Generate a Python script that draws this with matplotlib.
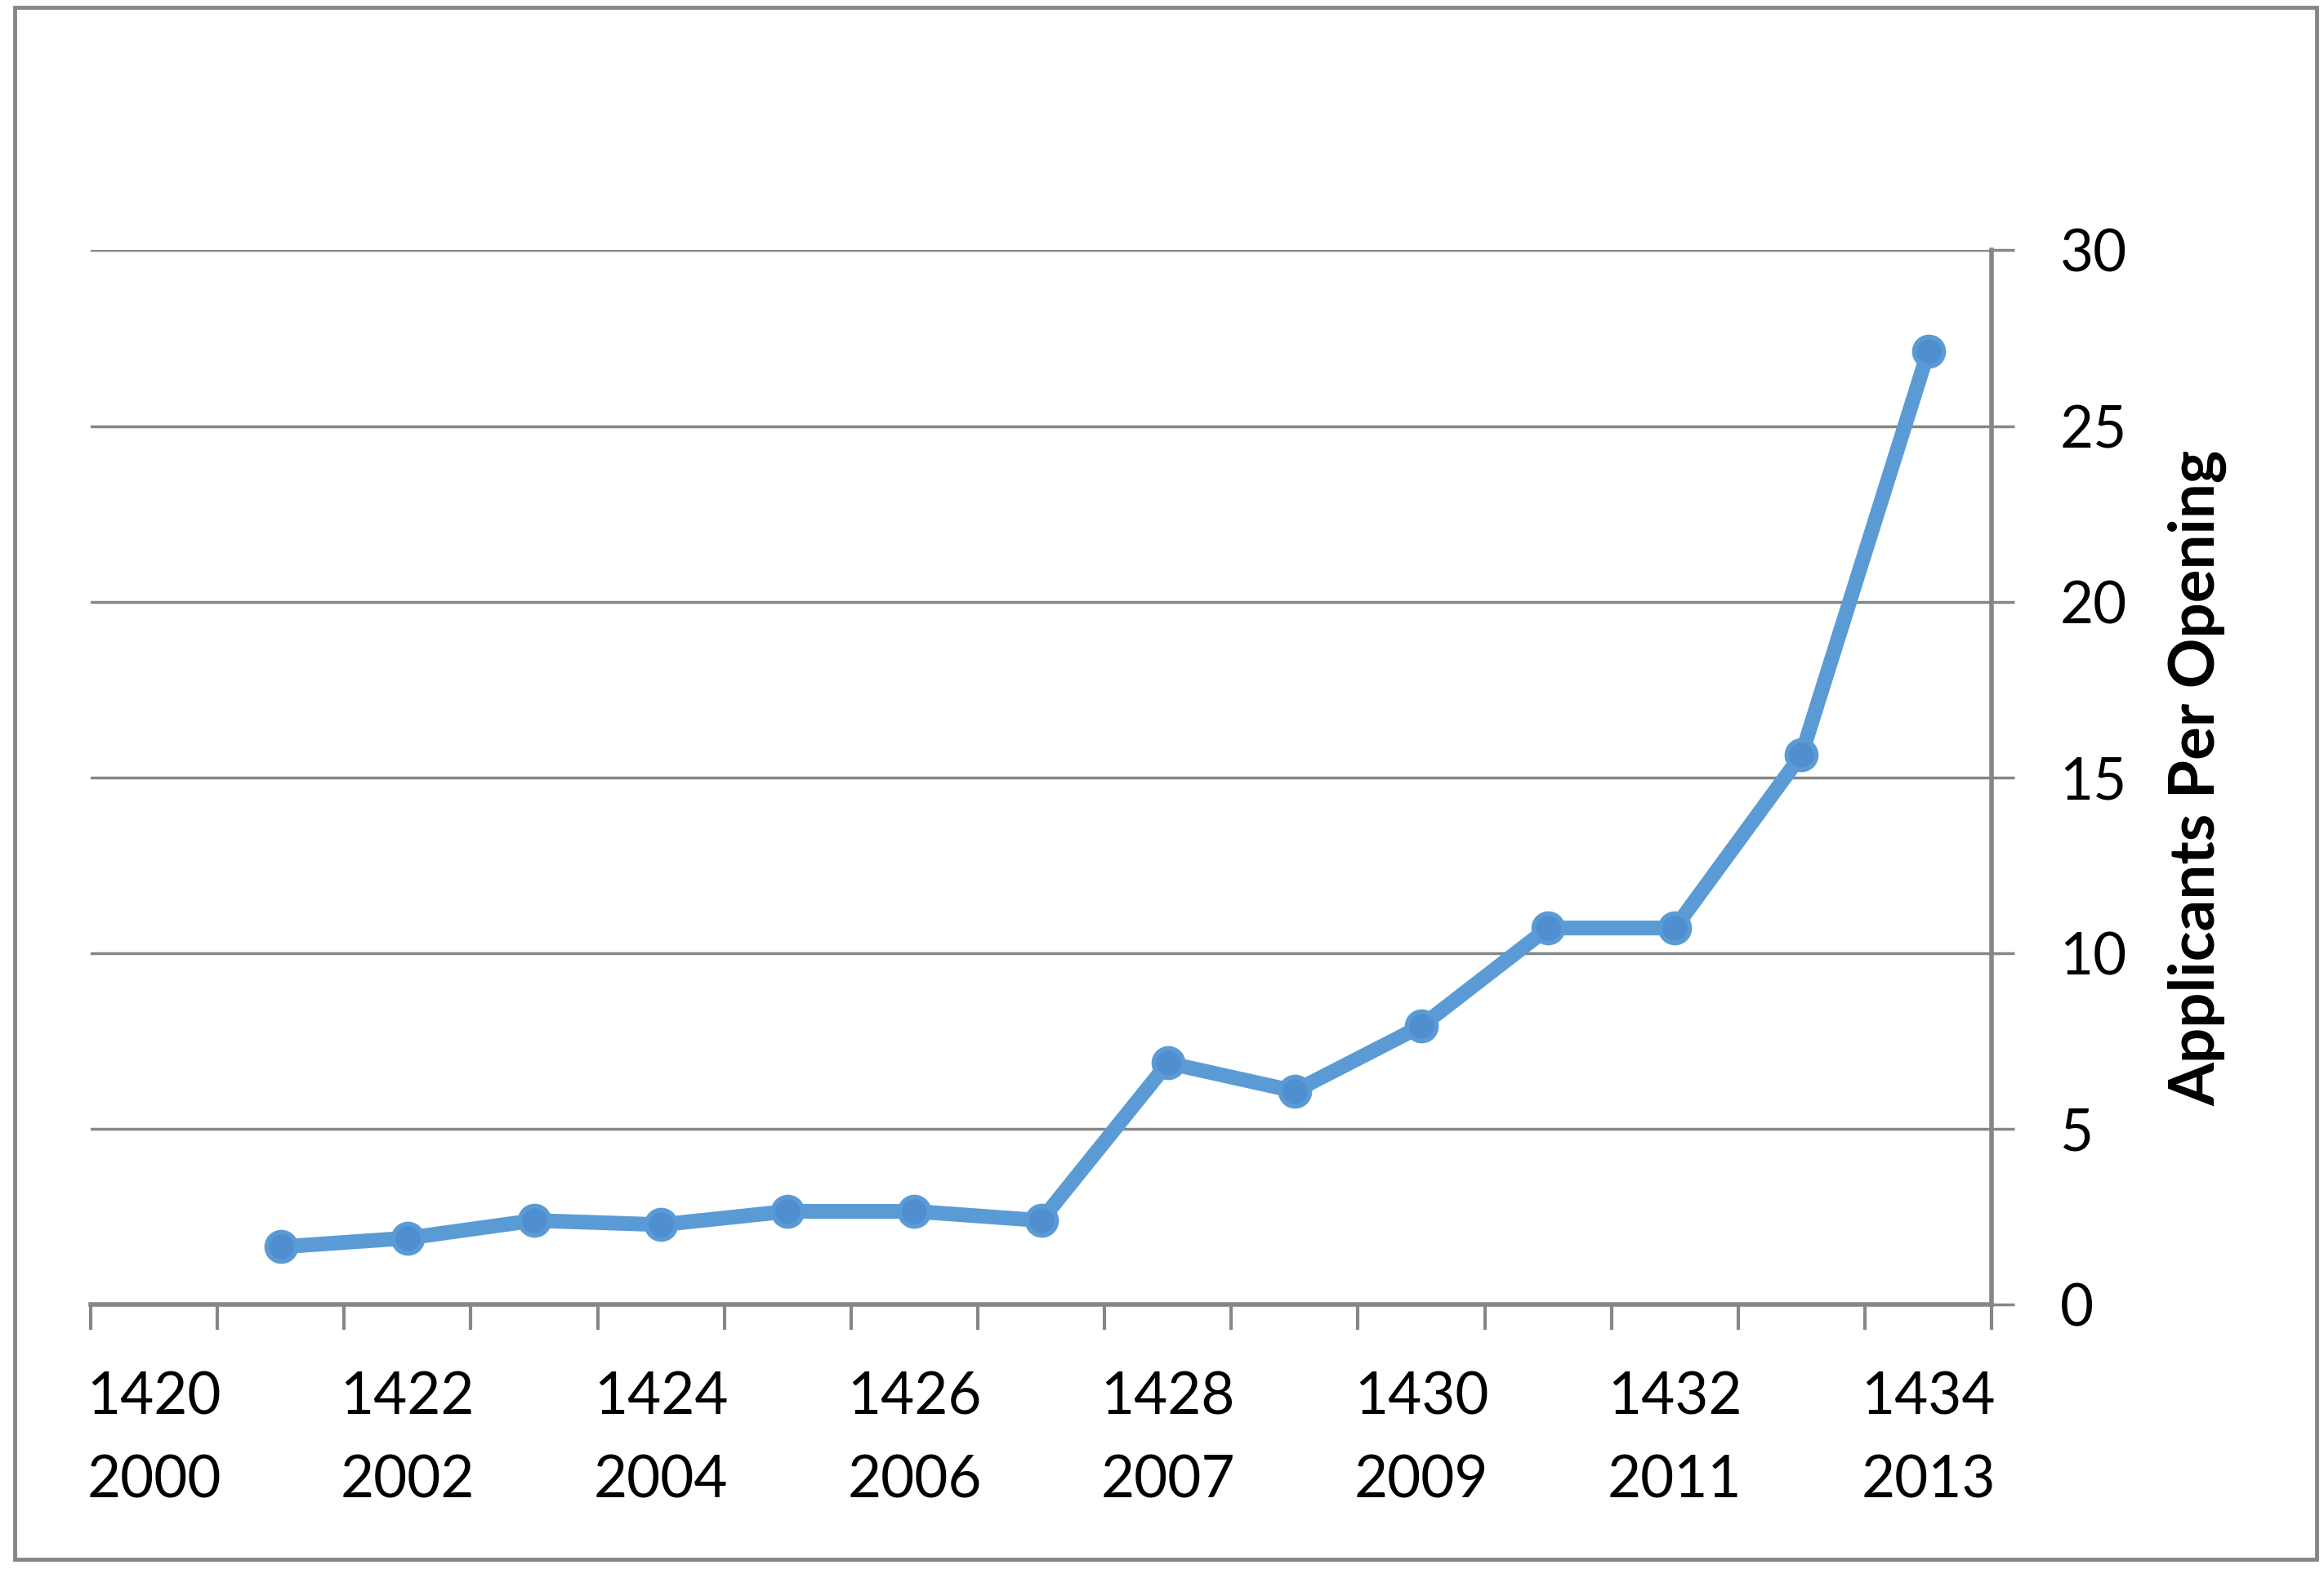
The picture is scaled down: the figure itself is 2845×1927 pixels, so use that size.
import numpy as np
import matplotlib.pyplot as plt
from matplotlib.patches import Rectangle

# Data
categories = [str(y) for y in range(1420, 1435)]
hijri_labels = ['1420', '1422', '1424', '1426', '1428', '1430', '1432', '1434']
greg_labels = ['2000', '2002', '2004', '2006', '2007', '2009', '2011', '2013']
years = list(range(1421, 1435))
applicants = [1.65, 1.9, 2.4, 2.28, 2.66, 2.66, 2.4, 6.88, 6.08, 7.93, 10.72, 10.72, 15.65, 27.13]

plt.rcParams['font.family'] = ['Lato', 'DejaVu Sans']

fig = plt.figure(figsize=(28.45, 19.27), dpi=100)
ax = fig.add_axes([0.039, 0.171, 0.818, 0.670])

grey = '#868686'
blue = '#5B9BD5'

xpos = [categories.index(str(y)) for y in years]
ax.plot(xpos, applicants, color=blue, lw=13, marker='o', ms=26,
        markerfacecolor='#4F8FCF', markeredgecolor=blue, markeredgewidth=4,
        solid_joinstyle='round', zorder=3)

ax.set_xlim(-0.5, len(categories) - 0.5)
ax.set_ylim(0, 30)

# category axis: ticks at boundaries, labels every other category
ax.set_xticks(np.arange(-0.5, len(categories), 1.0))
ax.set_xticklabels([])
ax.set_xticks([categories.index(h) for h in hijri_labels], minor=True)
ax.set_xticklabels([f'{h}\n{g}' for h, g in zip(hijri_labels, greg_labels)],
                   minor=True, fontsize=51, linespacing=1.7)
ax.tick_params(axis='x', which='major', length=22, width=3, color=grey, direction='out')
ax.tick_params(axis='x', which='minor', length=0, pad=58)

ax.yaxis.tick_right()
ax.yaxis.set_label_position('right')
ax.set_yticks(np.arange(0, 31, 5))
ax.tick_params(axis='y', length=20, width=2.5, color=grey, pad=40, labelsize=51)
ax.set_ylabel('Applicants Per Opening', fontsize=55, fontweight='bold', labelpad=36)

ax.grid(axis='y', color=grey, lw=2.5)
ax.set_axisbelow(True)
for s in ['top', 'left']:
    ax.spines[s].set_visible(False)
for s in ['bottom', 'right']:
    ax.spines[s].set_color(grey)
    ax.spines[s].set_linewidth(4)

fig.patches.append(Rectangle((0.0063, 0.0093), 0.9906, 0.986, transform=fig.transFigure,
                             fill=False, edgecolor=grey, lw=3.5))

fig.savefig('out.png', dpi=100)
